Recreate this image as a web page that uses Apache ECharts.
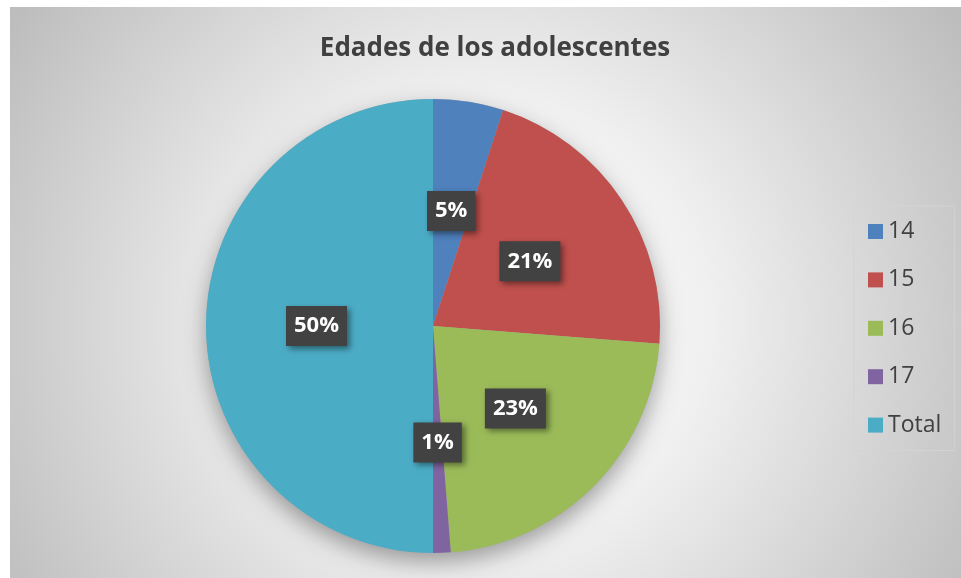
<!DOCTYPE html>
<html>
<head>
<meta charset="utf-8">
<script src="https://cdn.jsdelivr.net/npm/echarts@6/dist/echarts.min.js"></script>
<style>
html,body{margin:0;padding:0;background:#fff;}
#chart{width:961px;height:578px;}
</style>
</head>
<body>
<div id="chart"></div>
<script>
const titleText = 'Edades de los adolescentes';
const categories = ['14', '15', '16', '17', 'Total'];
const values = [4, 17, 18, 1, 40];
const colors = ['#4f81bd', '#c0504d', '#9bbb59', '#8064a2', '#4bacc6'];

const chart = echarts.init(document.getElementById('chart'), null, {renderer: 'canvas'});
const total = values.reduce((a, b) => a + b, 0);

const option = {
  animation: false,
  graphic: [{
    type: 'rect',
    z: -10,
    silent: true,
    shape: {x: 10, y: 7, width: 951, height: 571},
    style: {
      fill: {
        type: 'radial', x: 0.5, y: 0.55, r: 0.98,
        colorStops: [
          {offset: 0, color: '#ffffff'},
          {offset: 0.4, color: '#f0f0f0'},
          {offset: 1, color: '#bdbdbd'}
        ]
      }
    }
  }],
  title: {
    text: titleText,
    left: 490,
    top: 31,
    textAlign: 'center',
    textStyle: {
      fontFamily: 'Open Sans',
      fontWeight: 'bold',
      fontSize: 26,
      color: '#404040'
    }
  },
  legend: {
    orient: 'vertical',
    left: 854,
    top: 206,
    padding: [14, 13, 14, 14],
    itemWidth: 15,
    itemHeight: 15,
    itemGap: 25.4,
    icon: 'rect',
    borderColor: '#d4d4d4',
    borderWidth: 1,
    data: categories,
    textStyle: {
      fontFamily: 'Open Sans',
      fontSize: 23,
      lineHeight: 23,
      color: '#404040'
    }
  },
  series: [
    {
      type: 'pie',
      silent: true,
      z: 1,
      center: [433, 326],
      radius: 227,
      label: {show: false},
      labelLine: {show: false},
      itemStyle: {
        color: '#aaaaaa',
        shadowBlur: 22,
        shadowOffsetY: 9,
        shadowColor: 'rgba(0,0,0,0.35)'
      },
      data: [{value: 1, name: ''}]
    },
    {
      type: 'pie',
      z: 2,
      center: [433, 326],
      radius: 227,
      startAngle: 90,
      clockwise: true,
      avoidLabelOverlap: false,
      color: colors,
      itemStyle: {borderWidth: 0},
      label: {
        show: true,
        position: 'inside',
        formatter: p => Math.round(p.value / total * 100) + '%',
        fontFamily: 'Open Sans',
        fontWeight: 'bold',
        fontSize: 22,
        lineHeight: 22,
        color: '#ffffff',
        backgroundColor: '#424242',
        padding: [9, 8, 9, 8],
        shadowBlur: 6,
        shadowOffsetX: 3,
        shadowOffsetY: 3,
        shadowColor: 'rgba(0,0,0,0.45)'
      },
      labelLine: {show: false},
      emphasis: {disabled: true},
      data: categories.map((c, i) => ({name: c, value: values[i]}))
    }
  ]
};
chart.setOption(option);
</script>
</body>
</html>
